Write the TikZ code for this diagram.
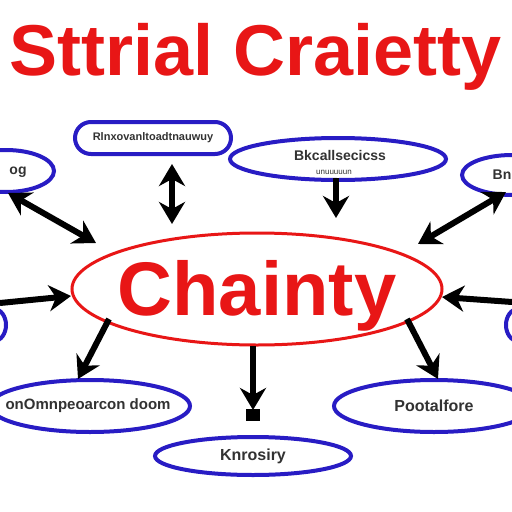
\documentclass[tikz,border=0pt]{standalone}
\usepackage{fontspec}
\setmainfont{Liberation Sans}
\usetikzlibrary{shapes.geometric,arrows.meta}
\definecolor{ored}{RGB}{232,22,22}
\definecolor{oblue}{RGB}{40,28,196}
\definecolor{otext}{RGB}{50,50,50}
\tikzset{
  bubble/.style={ellipse,draw=oblue,line width=4pt,fill=white,inner sep=0pt},
  small/.style={text=otext,font=\bfseries\fontsize{14}{14}\selectfont},
  arr/.style={line width=6pt,-{Stealth[length=22pt,width=26pt,inset=7pt]}},
  darr/.style={line width=6pt,{Stealth[length=22pt,width=26pt,inset=7pt]}-{Stealth[length=22pt,width=26pt,inset=7pt]}}
}
\begin{document}
\begin{tikzpicture}[x=1pt,y=-1pt]
\useasboundingbox[fill=white] (0,0) rectangle (512,512);
% title
\node[text=ored,font=\bfseries\fontsize{72}{72}\selectfont,inner sep=0pt,anchor=base] (title) at (256,75) {Sttrial Craietty};
% centre
\node[ellipse,draw=ored,line width=3pt,minimum width=370pt,minimum height=112pt,inner sep=0pt] (c) at (257,289) {};
\node[text=ored,font=\bfseries\fontsize{76}{76}\selectfont,inner sep=0pt,anchor=base] (ct) at (257,315) {Chainty};
% satellites
\node[draw=oblue,line width=4pt,rounded corners=16pt,minimum width=156pt,minimum height=32pt,inner sep=0pt,small,font=\bfseries\fontsize{11}{11}\selectfont] (tl) at (153,138) {Rlnxovanltoadtnauwuy};
\node[bubble,minimum width=216pt,minimum height=42pt] (tm) at (338,159) {};
\node[small] (tmt) at (340,155) {Bkcallsecicss};
\node[small,font=\fontsize{8}{8}\selectfont] (tms) at (334,172) {unuuuuun};
\node[bubble,minimum width=96pt,minimum height=42pt] (lt) at (6,171) {};
\node[small] (ltt) at (18,172) {og};
\node[bubble,minimum width=100pt,minimum height=40pt] (rt) at (512,175) {};
\node[small] (rtt) at (502,175) {Bn};
\node[bubble,minimum width=24pt,minimum height=32pt] (l) at (-6,325) {};
\node[bubble,minimum width=24pt,minimum height=32pt] (r) at (518,325) {};
\node[bubble,minimum width=200pt,minimum height=52pt] (bl) at (90,406) {};
\node[small,font=\bfseries\fontsize{15}{15}\selectfont] (blt) at (88,406) {onOmnpeoarcon doom};
\node[bubble,minimum width=200pt,minimum height=52pt,small,font=\bfseries\fontsize{16}{16}\selectfont] (br) at (434,406) {Pootalfore};
\node[bubble,minimum width=196pt,minimum height=38pt,small,font=\bfseries\fontsize{16}{16}\selectfont] (bc) at (253,456) {Knrosiry};
% arrow ends
\coordinate (a1s) at (172,164); \coordinate (a1e) at (172,224);
\coordinate (a2s) at (336,178); \coordinate (a2e) at (336,218);
\coordinate (a3s) at (8,193);   \coordinate (a3e) at (96,243);
\coordinate (a4s) at (506,192); \coordinate (a4e) at (418,244);
\coordinate (a5s) at (0,303);   \coordinate (a5e) at (71,296);
\coordinate (a6s) at (512,302); \coordinate (a6e) at (442,297);
\coordinate (a7s) at (109,319); \coordinate (a7e) at (78,379);
\coordinate (a8s) at (407,319); \coordinate (a8e) at (438,379);
\coordinate (a9s) at (253,346); \coordinate (a9e) at (253,410);
\draw[darr] (a1s) -- (a1e);
\draw[arr] (a2s) -- (a2e);
\draw[darr] (a3s) -- (a3e);
\draw[darr] (a4s) -- (a4e);
\draw[arr] (a5s) -- (a5e);
\draw[arr] (a6s) -- (a6e);
\draw[arr] (a7s) -- (a7e);
\draw[arr] (a8s) -- (a8e);
\draw[arr] (a9s) -- (a9e);
\node[fill=black,minimum width=14pt,minimum height=12pt,inner sep=0pt] (sq) at (253,415) {};
\end{tikzpicture}
\end{document}
